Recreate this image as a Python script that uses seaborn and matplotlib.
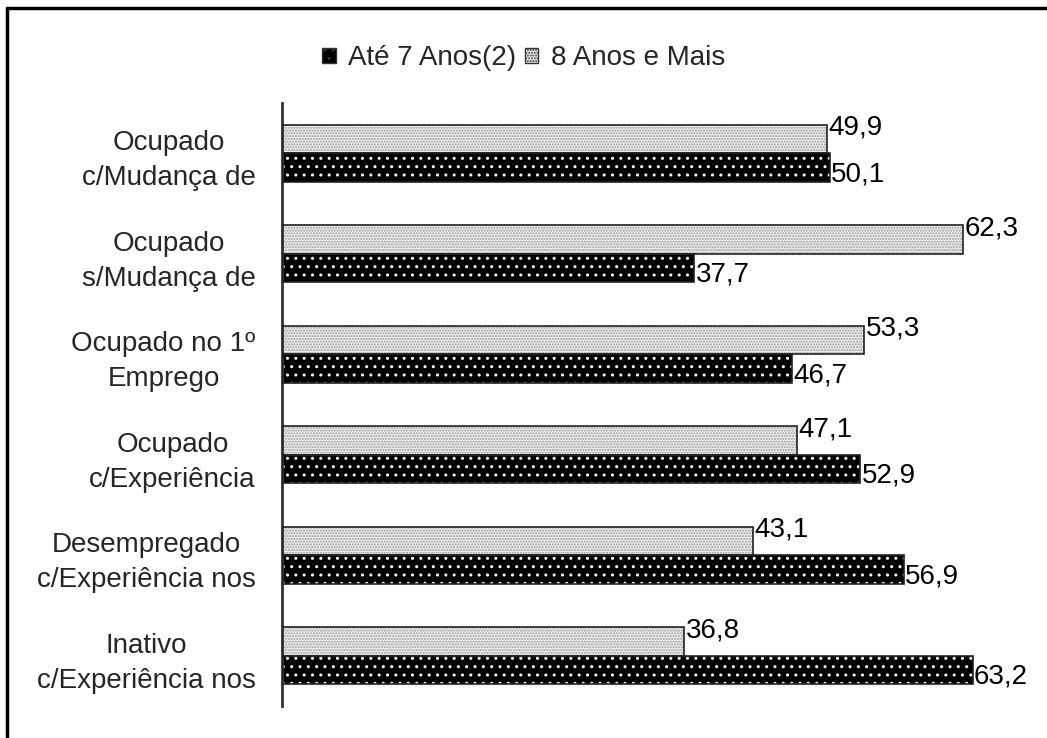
import pandas as pd
import matplotlib.pyplot as plt
import matplotlib.patches as mpatches
from matplotlib.lines import Line2D
import seaborn as sns

categories = [
    "Ocupado\nc/Mudança de",
    "Ocupado\ns/Mudança de",
    "Ocupado no 1º\nEmprego",
    "Ocupado\nc/Experiência",
    "Desempregado\nc/Experiência nos",
    "Inativo\nc/Experiência nos",
]
series_names = ["Até 7 Anos(2)", "8 Anos e Mais"]
ate_7_anos = [50.1, 37.7, 46.7, 52.9, 56.9, 63.2]
oito_e_mais = [49.9, 62.3, 53.3, 47.1, 43.1, 36.8]

df = pd.DataFrame({
    "categoria": categories * 2,
    "grupo": [series_names[0]] * len(categories) + [series_names[1]] * len(categories),
    "valor": ate_7_anos + oito_e_mais,
})

# style per series: face, hatch colour, hatch pattern
styles = {
    "Até 7 Anos(2)": ("#000000", "#ffffff", ".."),
    "8 Anos e Mais": ("#eeeeee", "#9a9a9a", "......"),
}

sns.set_theme(style="white")
plt.rcParams["font.family"] = ["Liberation Sans", "DejaVu Sans"]
plt.rcParams["hatch.linewidth"] = 1.0

fig = plt.figure(figsize=(10.47, 7.38), dpi=100)
ax = fig.add_axes([282 / 1047, 32 / 738, 765 / 1047, 603 / 738])

hue_order = ["8 Anos e Mais", "Até 7 Anos(2)"]  # light bar on top in each group
sns.barplot(data=df, x="valor", y="categoria", hue="grupo", hue_order=hue_order,
            orient="h", width=0.567, ax=ax, legend=False)

# apply patterns: edgecolor sets the hatch colour, then outline drawn on top
for cont, name in zip(ax.containers, hue_order):
    face, hcol, hatch = styles[name]
    for p in cont:
        p.set_facecolor(face)
        p.set_edgecolor(hcol)
        p.set_hatch(hatch)
        p.set_linewidth(0)
        outline = mpatches.Rectangle(p.get_xy(), p.get_width(), p.get_height(),
                                     fill=False, edgecolor="#222222", linewidth=1.2, zorder=3)
        ax.add_patch(outline)

# value labels with comma decimals
for cont, name in zip(ax.containers, hue_order):
    dy = 8 if name == "8 Anos e Mais" else -5
    for p in cont:
        w = p.get_width()
        ax.annotate(f"{w:.1f}".replace(".", ","),
                    (w, p.get_y() + p.get_height() / 2),
                    xytext=(1, dy), textcoords="offset points",
                    ha="left", va="center", fontsize=20, color="black")

ax.set_xlim(0, 70)
ax.set_xlabel("")
ax.set_ylabel("")
ax.set_xticks([])
for s in ["top", "right", "bottom"]:
    ax.spines[s].set_visible(False)
ax.spines["left"].set_color("#333333")
ax.spines["left"].set_linewidth(2)
ax.tick_params(axis="y", length=0, pad=19, labelsize=20)
for lab in ax.get_yticklabels():
    lab.set_multialignment("center")
    lab.set_linespacing(1.45)

handles = []
for name in series_names:
    face, hcol, hatch = styles[name]
    handles.append(mpatches.Patch(facecolor=face, edgecolor="#333333",
                                  hatch=hatch, linewidth=1, label=name))
fig.legend(handles=handles, loc="center", bbox_to_anchor=(0.5, 0.921), ncol=2,
           frameon=False, fontsize=20, handlelength=0.5, handleheight=0.5,
           handletextpad=0.45, columnspacing=0.3)

# outer frame (only top and left edges are visible in the crop)
fig.add_artist(Line2D([7 / 1047, 7 / 1047], [0, 1 - 8 / 738], color="black", linewidth=2.5))
fig.add_artist(Line2D([7 / 1047, 1], [1 - 8 / 738, 1 - 8 / 738], color="black", linewidth=2.5))

fig.savefig("out.png", dpi=100)
